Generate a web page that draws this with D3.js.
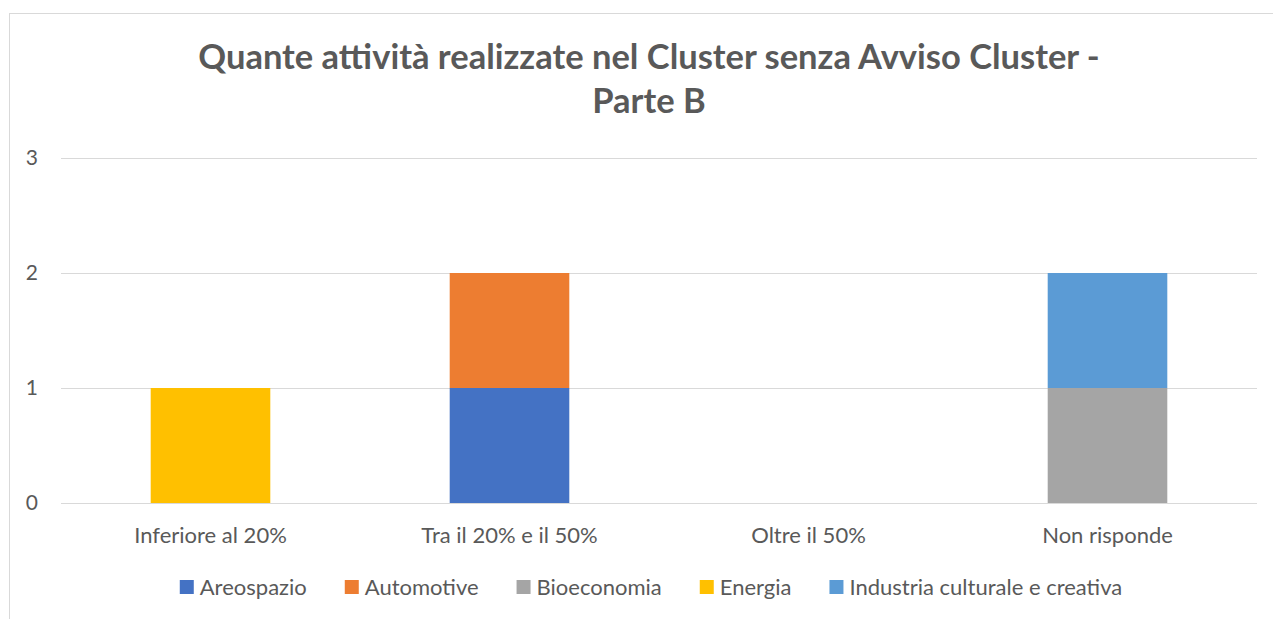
<!DOCTYPE html>
<meta charset="utf-8">
<script src="https://d3js.org/d3.v7.min.js"></script>
<style>
  body { margin: 0; background: #fff; }
  text { font-family: Lato, "Open Sans", sans-serif; fill: #595959; }
</style>
<body>
<svg width="1273" height="619"></svg>
<script>
var categories = ["Inferiore al 20%", "Tra il 20% e il 50%", "Oltre il 50%", "Non risponde"];
var seriesNames = ["Areospazio", "Automotive", "Bioeconomia", "Energia", "Industria culturale e creativa"];
var areospazio = [0, 1, 0, 0];
var automotive = [0, 1, 0, 0];
var bioeconomia = [0, 0, 0, 1];
var energia = [1, 0, 0, 0];
var industria = [0, 0, 0, 1];
var yTicks = [0, 1, 2, 3];
var titleLines = ["Quante attività realizzate nel Cluster senza Avviso Cluster -", "Parte B"];

var colors = ["#4472C4", "#ED7D31", "#A5A5A5", "#FFC000", "#5B9BD5"];
var seriesValues = [areospazio, automotive, bioeconomia, energia, industria];

var rows = categories.map(function(c, i) {
  var r = {cat: c};
  seriesNames.forEach(function(s, j) { r[s] = seriesValues[j][i]; });
  return r;
});

var svg = d3.select("svg"),
    margin = {top: 158, right: 16, bottom: 116, left: 61},
    width = +svg.attr("width") - margin.left - margin.right,
    height = +svg.attr("height") - margin.top - margin.bottom;

// chart frame
svg.append("rect")
  .attr("x", 9.5).attr("y", 13.5)
  .attr("width", 1400).attr("height", 700)
  .attr("fill", "none").attr("stroke", "#d9d9d9");

var g = svg.append("g").attr("transform", "translate(" + margin.left + "," + margin.top + ")");

var x = d3.scaleBand().domain(categories).range([0, width]).paddingInner(0.6).paddingOuter(0.3);
var y = d3.scaleLinear().domain([0, 3]).range([height, 0]);
var z = d3.scaleOrdinal().domain(seriesNames).range(colors);

var yAxis = g.append("g")
  .call(d3.axisLeft(y).tickValues(yTicks).tickSize(-width).tickPadding(23).tickFormat(d3.format("d")));
yAxis.select(".domain").remove();
yAxis.selectAll(".tick line").attr("stroke", "#d9d9d9");
yAxis.selectAll(".tick text").attr("font-size", 21).style("font-family", "Lato, sans-serif").attr("fill", "#595959");

var stack = d3.stack().keys(seriesNames)(rows);

g.append("g").selectAll("g")
  .data(stack)
  .enter().append("g")
  .attr("fill", function(d) { return z(d.key); })
  .selectAll("rect")
  .data(function(d) { return d.filter(function(p) { return p[1] - p[0] > 0; }); })
  .enter().append("rect")
  .attr("x", function(d) { return x(d.data.cat); })
  .attr("y", function(d) { return y(d[1]); })
  .attr("height", function(d) { return y(d[0]) - y(d[1]); })
  .attr("width", x.bandwidth());

var xAxis = g.append("g")
  .attr("transform", "translate(0," + height + ")")
  .call(d3.axisBottom(x).tickSize(0).tickPadding(24));
xAxis.select(".domain").remove();
xAxis.selectAll(".tick text").attr("font-size", 22).style("font-family", "Lato, sans-serif").attr("fill", "#595959");

// title
svg.append("g").selectAll("text")
  .data(titleLines)
  .enter().append("text")
  .attr("x", 649)
  .attr("y", function(d, i) { return 69 + i * 44; })
  .attr("text-anchor", "middle")
  .attr("font-size", 34.5)
  .attr("font-weight", "bold")
  .text(function(d) { return d; });

// legend
var legend = svg.append("g").attr("transform", "translate(0,587)");
var items = legend.selectAll("g").data(seriesNames).enter().append("g");
items.append("rect")
  .attr("y", -7).attr("width", 14).attr("height", 14)
  .attr("fill", function(d) { return z(d); });
items.append("text")
  .attr("x", 20).attr("dy", "0.35em")
  .attr("font-size", 22)
  .text(function(d) { return d; });
var pos = 0, offsets = [];
items.each(function() {
  offsets.push(pos);
  pos += 20 + d3.select(this).select("text").node().getComputedTextLength() + 38;
});
var total = pos - 38, start = 651 - total / 2;
items.attr("transform", function(d, i) { return "translate(" + (start + offsets[i]) + ",0)"; });
</script>
</body>
